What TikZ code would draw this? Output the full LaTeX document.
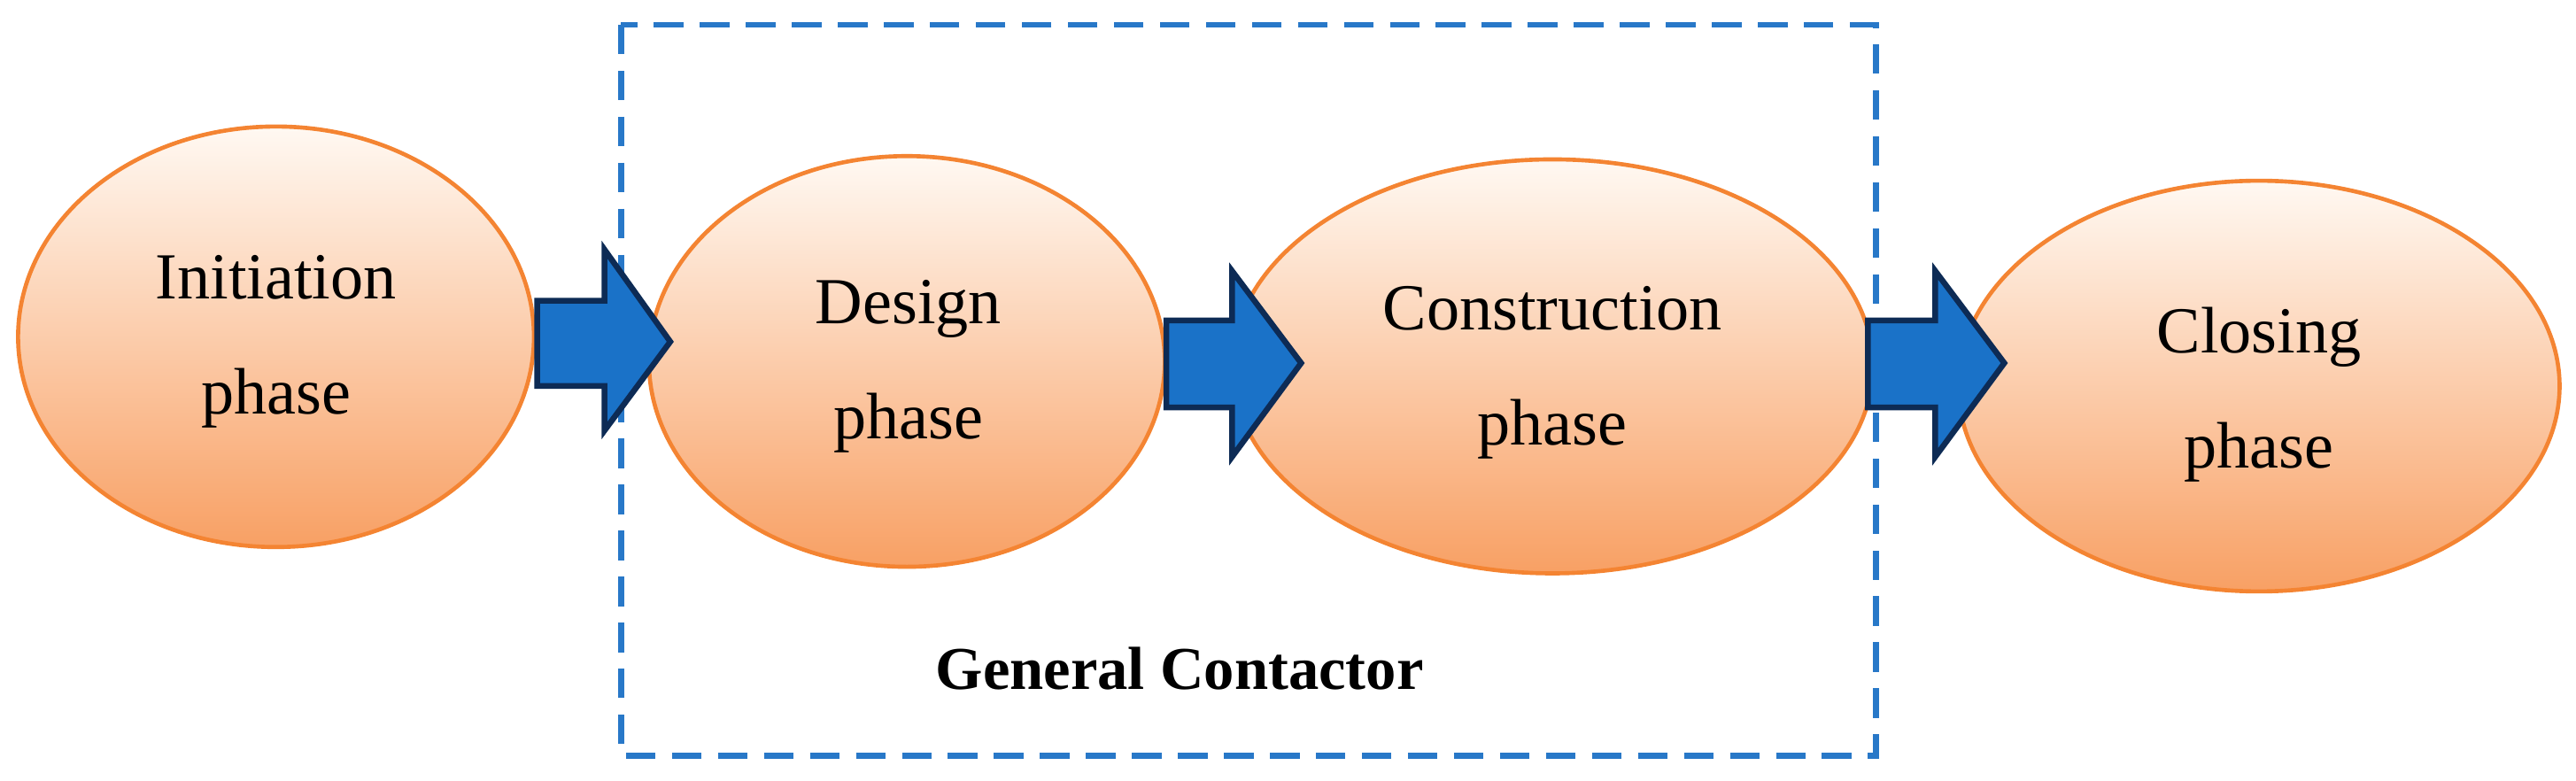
\documentclass[tikz,border=0pt]{standalone}
\usepackage{fontspec}
\setmainfont{Liberation Serif}
\begin{document}
\begin{tikzpicture}[x=1pt,y=-1pt,
  ph/.style={draw={rgb,255:red,244;green,132;blue,50}, line width=2.5pt, top color=orange!5, bottom color={rgb,255:red,248;green,160;blue,100}},
  blk/.style={fill={rgb,255:red,26;green,114;blue,200}, draw={rgb,255:red,13;green,43;blue,85}, line width=3.5pt, line join=miter},
  txt/.style={font=\fontsize{40}{70}\selectfont, align=center}]
\useasboundingbox (0,0) rectangle (1568,475);
\draw[dash pattern=on 18pt off 10pt, line width=3.5pt, color={rgb,255:red,40;green,120;blue,200}] (378,15) rectangle (1142,460);
\path[ph] (168,205) ellipse [x radius=157, y radius=128];
\path[ph] (552,220) ellipse [x radius=157, y radius=125];
\path[ph] (945,223) ellipse [x radius=195, y radius=126];
\path[ph] (1375,235) ellipse [x radius=183, y radius=125];
\node[txt] (a) at (168,208) {Initiation\\phase};
\node[txt] (b) at (553,223) {Design\\phase};
\node[txt] (c) at (945,227) {Construction\\phase};
\node[txt] (d) at (1375,240) {Closing\\phase};
\node[font=\fontsize{37}{40}\selectfont\bfseries] (g) at (718,407) {General Contactor};
\draw[blk] (327,183) -- (368,183) -- (368,152) -- (408,208) -- (368,262) -- (368,235) -- (327,235) -- cycle;
\draw[blk] (710,195) -- (750,195) -- (750,165) -- (792,221) -- (750,278) -- (750,248) -- (710,248) -- cycle;
\draw[blk] (1137,195) -- (1178,195) -- (1178,165) -- (1220,221) -- (1178,278) -- (1178,248) -- (1137,248) -- cycle;
\end{tikzpicture}
\end{document}
